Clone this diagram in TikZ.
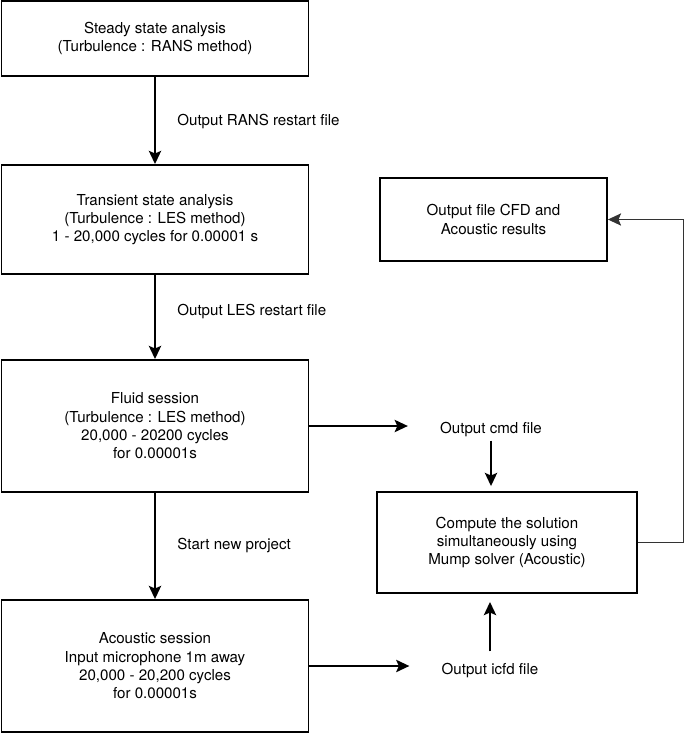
\documentclass[tikz,border=0pt]{standalone}
\usepackage{fontspec}
\setmainfont{TeX Gyre Heros}
\usetikzlibrary{arrows.meta}

\tikzset{
    stage/.style={draw, line width=1.1pt, align=center, inner sep=0pt},
    note/.style={inner sep=0pt},
    flow/.style={line width=1.1pt, -{Stealth[length=7.5pt, width=7pt, inset=1.5pt]}},
    back/.style={line width=0.6pt, black!80, -{Stealth[length=7.5pt, width=7pt, inset=1.5pt]}},
}

\begin{document}
\begin{tikzpicture}[x=0.02cm, y=-0.02cm, font=\fontsize{8.6}{10.4}\selectfont]
    \useasboundingbox (0,0) rectangle (685,734);
    % left column
    \node[stage, minimum width=6.14cm, minimum height=1.5cm] (steady) at (155,38.5)
        {Steady state analysis\\(Turbulence : RANS method)};
    \node[stage, minimum width=6.14cm, minimum height=2.18cm] (transient) at (155,219.5)
        {Transient state analysis\\(Turbulence : LES method)\\1 - 20,000 cycles for 0.00001 s};
    \node[stage, minimum width=6.14cm, minimum height=2.64cm] (fluid) at (155,426)
        {Fluid session\\(Turbulence : LES method)\\20,000 - 20200 cycles\\for 0.00001s};
    \node[stage, minimum width=6.14cm, minimum height=2.64cm] (acoustic) at (155,666)
        {Acoustic session\\Input microphone 1m away\\20,000 - 20,200 cycles\\for 0.00001s};
    % right column
    \node[stage, minimum width=4.54cm, minimum height=1.66cm] (results) at (493.5,219.5)
        {Output file CFD and\\Acoustic results};
    \node[stage, minimum width=5.2cm, minimum height=2.02cm] (solver) at (507,542.5)
        {Compute the solution\\simultaneously using\\Mump solver (Acoustic)};
    \node[note] (cmd) at (491,429) {Output cmd file};
    \node[note] (icfd) at (490,670) {Output icfd file};
    % arrow labels
    \node[note, anchor=west] (rans) at (177,122) {Output RANS restart file};
    \node[note, anchor=west] (les) at (177,311) {Output LES restart file};
    \node[note, anchor=west] (newproj) at (177,545) {Start new project};
    \coordinate (edge) at (683.5,0);

    \draw[flow] (steady) -- (transient);
    \draw[flow] (transient) -- (fluid);
    \draw[flow] (fluid) -- (acoustic);
    \draw[flow, shorten >=0.64cm] (fluid.east) -- (fluid.east -| cmd.west);
    \draw[flow, shorten >=0.64cm] (acoustic.east) -- (acoustic.east -| icfd.west);
    \draw[flow, shorten <=0.08cm, shorten >=0.1cm] (cmd.south) -- (solver.north -| cmd.south);
    \draw[flow, shorten <=0.22cm, shorten >=0.16cm] (icfd.north) -- (solver.south -| icfd.north);
    \draw[back] (solver.east) -- (solver.east -| edge) |- (results.east);
\end{tikzpicture}
\end{document}
